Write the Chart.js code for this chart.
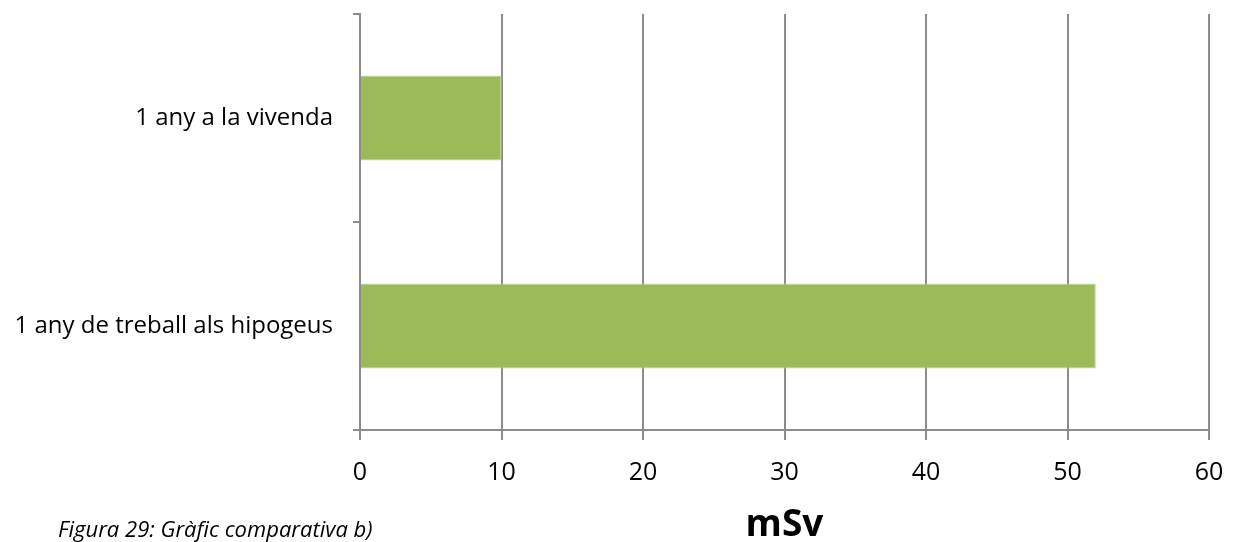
<!DOCTYPE html>
<html>
<head>
<meta charset="utf-8">
<script src="https://cdn.jsdelivr.net/npm/chart.js@4.4.1/dist/chart.umd.min.js"></script>
<style>
  html, body { margin: 0; padding: 0; background: #fff; }
</style>
</head>
<body>
<canvas id="c" width="1242" height="542"></canvas>
<script>
// Annual dose comparison (mSv)
const categories = ["1 any a la vivenda", "1 any de treball als hipogeus"];
const doses = [10, 52];
const xTicks = [0, 10, 20, 30, 40, 50, 60];
const axisTitle = "mSv";
const caption = "Figura 29: Gràfic comparativa b)";

const gridGrey = "#8c8c8c";

// Figure caption in the lower-left corner
const captionPlugin = {
  id: "caption",
  afterDraw(chart) {
    const ctx = chart.ctx;
    ctx.save();
    ctx.font = "italic 22px 'Open Sans'";
    ctx.fillStyle = "#000";
    ctx.textAlign = "left";
    ctx.textBaseline = "alphabetic";
    ctx.fillText(caption, 58, 537);
    ctx.restore();
  }
};

new Chart(document.getElementById("c"), {
  type: "bar",
  data: {
    labels: categories,
    datasets: [{
      data: doses,
      backgroundColor: "#9bbb59",
      borderColor: "#c2d69b",
      borderWidth: 1,
      categoryPercentage: 0.8,
      barPercentage: 0.51
    }]
  },
  plugins: [captionPlugin],
  options: {
    indexAxis: "y",
    responsive: false,
    animation: false,
    layout: { padding: { top: 14, right: 33, bottom: 0, left: 0 } },
    plugins: { legend: { display: false }, tooltip: { enabled: false } },
    scales: {
      x: {
        min: xTicks[0],
        max: xTicks[xTicks.length - 1],
        afterBuildTicks: s => { s.ticks = xTicks.map(v => ({ value: v })); },
        afterFit: s => { s.height = 112; s.paddingLeft = 0; s.paddingRight = 0; },
        grid: { color: gridGrey, lineWidth: 2, tickLength: 10, drawTicks: true },
        border: { color: gridGrey, width: 2 },
        ticks: {
          color: "#000",
          padding: 18,
          font: { family: "Open Sans", size: 25 }
        },
        title: {
          display: true,
          text: axisTitle,
          color: "#000",
          padding: { top: 0, bottom: -6 },
          font: { family: "Open Sans", size: 37, weight: "bold" }
        }
      },
      y: {
        afterFit: s => { s.width = 360; s.paddingTop = 0; s.paddingBottom = 0; },
        grid: { drawOnChartArea: false, color: gridGrey, lineWidth: 2, tickLength: 7, offset: true },
        border: { color: gridGrey, width: 2 },
        ticks: {
          color: "#000",
          padding: 20,
          font: { family: "Open Sans", size: 24 }
        }
      }
    }
  }
});
</script>
</body>
</html>
